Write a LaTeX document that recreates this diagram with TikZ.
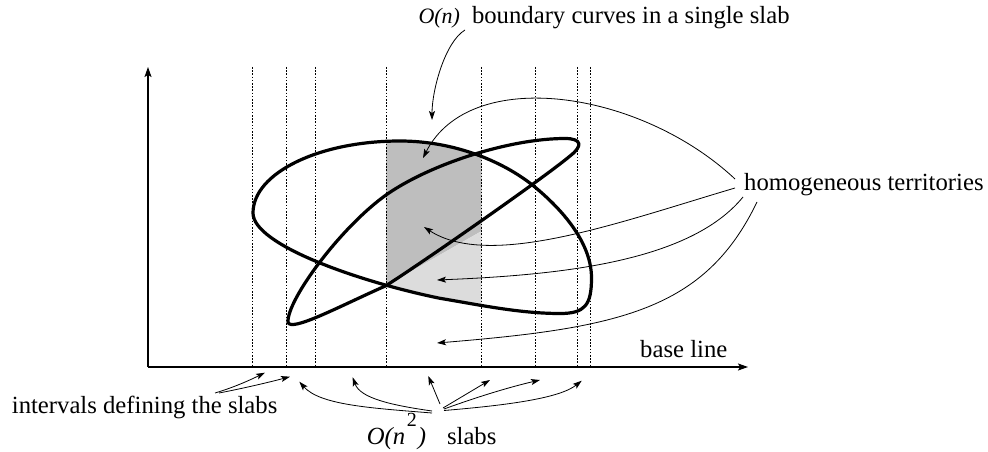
\documentclass[tikz,border=0pt]{standalone}
\usepackage{fontspec}
\setmainfont{Liberation Serif}
\usetikzlibrary{arrows.meta}
\definecolor{darkfill}{HTML}{BEBEBE}
\definecolor{lightfill}{HTML}{DCDCDC}
\newcommand\curveOnePath{(253,213) .. controls (253,173) and (319,141) .. (400,141)
  .. controls (455,141) and (505,162) .. (535.7,187.7)
  .. controls (566,213) and (591.5,245) .. (591.5,278)
  .. controls (591.5,305) and (585,313.5) .. (560,313.5)
  .. controls (520,313.5) and (480,305) .. (440,298.3)
  .. controls (360,282) and (253,245) .. cycle}
\newcommand\curveTwoPath{(288,322) .. controls (287,300) and (340,228) .. (386,195)
  .. controls (430,164) and (510,138.5) .. (565,138.5)
  .. controls (582,138.5) and (583,146) .. (570,156)
  .. controls (545,177) and (432,256) .. (386,285.7)
  .. controls (340,306) and (290,333) .. cycle}
\tikzset{
  lbl/.style={inner sep=0pt, anchor=base west, font=\fontsize{24.7}{28}\selectfont},
  thinarrow/.style={line width=0.8pt, -{Stealth[length=9pt,width=6pt,inset=2pt]}},
  axisarrow/.style={line width=1.3pt, -{Stealth[length=10pt,width=7pt,inset=2pt]}},
  slabline/.style={line width=0.9pt, dash pattern=on 1.6pt off 1.6pt},
  boundary/.style={line width=3.2pt, line join=round},
}
\begin{document}
\begin{tikzpicture}[x=1pt,y=-1pt]
\useasboundingbox (0,0) rectangle (988,452);
% shaded regions of one slab
\begin{scope}
  \clip (386,100) rectangle (481.7,340);
  \clip \curveOnePath;
  \fill[darkfill] (386,100) -- (481.7,100) -- (481.7,231) -- (386,285.7) -- cycle;
  \fill[lightfill] (386,285.7) -- (481.7,231) -- (481.7,340) -- (386,340) -- cycle;
\end{scope}
% slab boundaries
\foreach \x in {252.7,286,315,386,481.7,535.7,577.7,590}
  \draw[slabline] (\x,67) -- (\x,367);
% axes
\coordinate (O) at (148,367);
\coordinate (ytop) at (148,67);
\coordinate (xend) at (748,367);
\draw[axisarrow] (O) -- (ytop);
\draw[axisarrow] (O) -- (xend);
% boundary curves
\draw[boundary] \curveOnePath;
\draw[boundary] \curveTwoPath;
% labels
\node[lbl] (top) at (418.3,24) {{\fontsize{22}{24}\selectfont\itshape O(n)}\hspace{12pt}boundary curves in a single slab};
\node[lbl] (homog) at (744,190) {homogeneous territories};
\node[lbl] (base) at (640,357) {base line};
\node[lbl] (intv) at (11.7,413.3) {intervals defining the slabs};
\node[lbl] (slabs) at (366.7,444) {\textit{O(n}\hspace{1.5pt}\raisebox{18pt}{\fontsize{20}{22}\selectfont 2}\hspace{1pt}\textit{)}\hspace{21pt}slabs};
% arrow ends
\coordinate (sA) at (465,30);   \coordinate (tA) at (432,120);
\coordinate (h1) at (735,179);  \coordinate (t1) at (423,158);
\coordinate (h2) at (735,188);  \coordinate (t2) at (424,227);
\coordinate (h3) at (743,197);  \coordinate (t3) at (437,280);
\coordinate (h4) at (757,202);  \coordinate (t4) at (437,343);
\coordinate (i1s) at (215,393); \coordinate (i1t) at (265,372.7);
\coordinate (i2s) at (219,393); \coordinate (i2t) at (290,376.7);
\coordinate (s1) at (432,413);  \coordinate (u1) at (299.3,381.7);
\coordinate (s2) at (432,411);  \coordinate (u2) at (352.7,377.3);
\coordinate (s3) at (440,404);  \coordinate (u3) at (428.3,376);
\coordinate (s4) at (443,408);  \coordinate (u4) at (490,380);
\coordinate (s5) at (444,409);  \coordinate (u5) at (540,380);
\coordinate (s6) at (444,410.5);\coordinate (u6) at (581.7,380.7);
% arrows
\draw[thinarrow] (sA) .. controls (445,42) and (432,90) .. (tA);
\draw[thinarrow] (h1) .. controls (640,90) and (470,65) .. (t1);
\draw[thinarrow] (h2) .. controls (620,222) and (490,270) .. (t2);
\draw[thinarrow] (h3) .. controls (690,262) and (560,275) .. (t3);
\draw[thinarrow] (h4) .. controls (705,310) and (620,328) .. (t4);
\draw[thinarrow] (i1s) .. controls (235,387) and (250,380) .. (i1t);
\draw[thinarrow] (i2s) .. controls (245,388) and (270,382) .. (i2t);
\draw[thinarrow] (s1) .. controls (370,408) and (320,405) .. (u1);
\draw[thinarrow] (s2) .. controls (390,405) and (360,398) .. (u2);
\draw[thinarrow] (s3) -- (u3);
\draw[thinarrow] (s4) -- (u4);
\draw[thinarrow] (s5) .. controls (480,396) and (510,387) .. (u5);
\draw[thinarrow] (s6) .. controls (510,405) and (560,398) .. (u6);
\end{tikzpicture}
\end{document}
